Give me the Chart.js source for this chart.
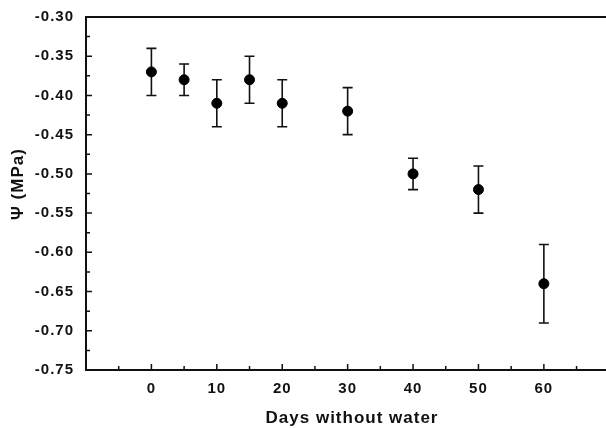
<!DOCTYPE html>
<html>
<head>
<meta charset="utf-8">
<script src="https://cdn.jsdelivr.net/npm/chart.js@4/dist/chart.umd.min.js"></script>
<style>
  html, body { margin: 0; padding: 0; background: #fff; }
  #wrap { width: 606px; height: 428px; }
</style>
</head>
<body>
<div id="wrap"><canvas id="psiChart"></canvas></div>
<script>
// water potential over a drought period
const days = [0, 5, 10, 15, 20, 30, 40, 50, 60];
const psi = [-0.37, -0.38, -0.41, -0.38, -0.41, -0.42, -0.50, -0.52, -0.64];
const psiErr = [0.03, 0.02, 0.03, 0.03, 0.03, 0.03, 0.02, 0.03, 0.05];
const xTickLabels = [0, 10, 20, 30, 40, 50, 60];
const xTitle = 'Days without water';
const yTitle = 'Ψ (MPa)';

const FONT = "'Liberation Sans', Arial, sans-serif";

// wide-set tick lettering
const spacing = {
  id: 'spacing',
  beforeDraw(chart) { chart.ctx.letterSpacing = '1px'; }
};

// whiskers under the points
const errorBars = {
  id: 'errorBars',
  beforeDatasetsDraw(chart) {
    const { ctx, scales: { x, y } } = chart;
    ctx.save();
    ctx.strokeStyle = '#111';
    ctx.lineWidth = 1.6;
    days.forEach((d, i) => {
      const px = x.getPixelForValue(d);
      const top = y.getPixelForValue(psi[i] + psiErr[i]);
      const bot = y.getPixelForValue(psi[i] - psiErr[i]);
      ctx.beginPath();
      ctx.moveTo(px, top); ctx.lineTo(px, bot);
      ctx.moveTo(px - 5, top); ctx.lineTo(px + 5, top);
      ctx.moveTo(px - 5, bot); ctx.lineTo(px + 5, bot);
      ctx.stroke();
    });
    ctx.restore();
  }
};

// inward tick marks, top frame line and axis titles
const frame = {
  id: 'frame',
  afterDraw(chart) {
    const { ctx, chartArea: a, scales: { x, y } } = chart;
    ctx.save();
    ctx.strokeStyle = '#111';
    ctx.lineWidth = 1.5;
    ctx.beginPath();
    for (let v = -10; v <= 70; v += 5) {
      const px = x.getPixelForValue(v);
      if (px <= a.left + 1 || px > a.right) continue;
      const len = v % 10 === 0 ? 6 : 4;
      ctx.moveTo(px, a.bottom); ctx.lineTo(px, a.bottom - len);
    }
    for (let k = 0; k <= 18; k++) {
      const v = -0.75 + k * 0.025;
      const py = y.getPixelForValue(v);
      const len = k % 2 === 0 ? 6 : 4;
      ctx.moveTo(a.left, py); ctx.lineTo(a.left + len, py);
    }
    ctx.stroke();
    ctx.lineWidth = 2;
    ctx.beginPath();
    ctx.moveTo(a.left, a.top); ctx.lineTo(a.right, a.top);
    ctx.stroke();

    ctx.fillStyle = '#111';
    ctx.font = 'bold 17px ' + FONT;
    ctx.textAlign = 'center';
    ctx.textBaseline = 'alphabetic';
    ctx.letterSpacing = '1px';
    ctx.fillText(xTitle, 352, 423);
    ctx.translate(23, 184);
    ctx.rotate(-Math.PI / 2);
    ctx.fillText(yTitle, 0, 0);
    ctx.restore();
  }
};

new Chart(document.getElementById('psiChart'), {
  type: 'scatter',
  data: {
    datasets: [{
      data: days.map((d, i) => ({ x: d, y: psi[i] })),
      backgroundColor: '#000',
      borderColor: '#000',
      pointRadius: 5,
      pointHoverRadius: 5
    }]
  },
  options: {
    responsive: true,
    maintainAspectRatio: false,
    animation: false,
    // plot runs right up to the canvas edge
    layout: { autoPadding: false, padding: { top: 17, right: 0, left: 0, bottom: 0 } },
    plugins: { legend: { display: false }, tooltip: { enabled: false } },
    scales: {
      x: {
        type: 'linear',
        min: -10,
        max: 69.5,
        grid: { display: false, drawTicks: false },
        border: { display: true, color: '#111', width: 2 },
        afterFit(scale) {
          scale.height = 58;
          scale.paddingLeft = 0;
          scale.paddingRight = 0;
        },
        ticks: {
          stepSize: 10,
          padding: 10,
          color: '#111',
          font: { family: FONT, size: 15, weight: 'bold' },
          callback: v => xTickLabels.includes(v) ? String(v) : ''
        }
      },
      y: {
        min: -0.75,
        max: -0.30,
        grid: { display: false, drawTicks: false },
        border: { display: true, color: '#111', width: 2 },
        afterFit(scale) {
          scale.width = 86;
          scale.paddingTop = 0;
          scale.paddingBottom = 0;
        },
        ticks: {
          stepSize: 0.05,
          padding: 12,
          color: '#111',
          font: { family: FONT, size: 15, weight: 'bold' },
          callback: v => v.toFixed(2)
        }
      }
    }
  },
  plugins: [spacing, errorBars, frame]
});
</script>
</body>
</html>
